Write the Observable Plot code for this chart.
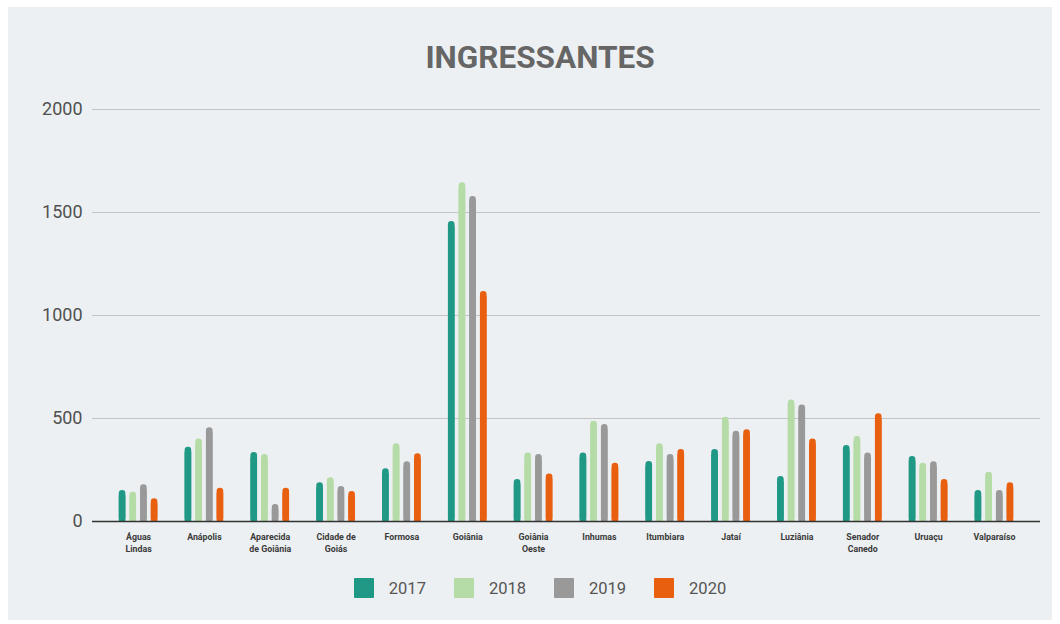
<!DOCTYPE html>
<html>
<head>
<meta charset="utf-8">
<script src="https://cdn.jsdelivr.net/npm/d3@7"></script>
<script src="https://cdn.jsdelivr.net/npm/@observablehq/plot@0.6"></script>
<style>
  html, body { margin: 0; padding: 0; background: #ffffff; }
  #panel { position: absolute; left: 8px; top: 7px; width: 1044px; height: 613px; background: #edf0f2; overflow: hidden; }
  #title { position: absolute; left: -8px; width: 1080px; top: 32px; text-align: center; font-family: Roboto, sans-serif; font-weight: bold; font-size: 31.5px; color: #666666; line-height: 38px; }
  #chart { position: absolute; left: 0; top: 83px; }
  #legend { position: absolute; left: -8px; width: 1080px; top: 571px; display: flex; justify-content: center; align-items: center; font-family: Roboto, sans-serif; font-size: 16.5px; color: #555; }
  .item { display: flex; align-items: center; margin: 0 14px; }
  .sw { width: 20px; height: 20px; margin-right: 15px; border-radius: 1px; }
</style>
</head>
<body>
<div id="panel">
  <div id="title">INGRESSANTES</div>
  <div id="chart"></div>
  <div id="legend"></div>
</div>
<script>
const cities = ["Águas Lindas", "Anápolis", "Aparecida de Goiânia", "Cidade de Goiás", "Formosa", "Goiânia", "Goiânia Oeste", "Inhumas", "Itumbiara", "Jataí", "Luziânia", "Senador Canedo", "Uruaçu", "Valparaíso"];
const tickLabels = ["Águas\nLindas", "Anápolis", "Aparecida\nde Goiânia", "Cidade de\nGoiás", "Formosa", "Goiânia", "Goiânia\nOeste", "Inhumas", "Itumbiara", "Jataí", "Luziânia", "Senador\nCanedo", "Uruaçu", "Valparaíso"];
const years = ["2017", "2018", "2019", "2020"];
const v2017 = [150, 361, 335, 188, 256, 1456, 204, 333, 291, 350, 218, 369, 316, 150];
const v2018 = [142, 401, 325, 212, 377, 1644, 333, 487, 377, 506, 590, 413, 283, 239];
const v2019 = [178, 455, 82, 170, 290, 1578, 325, 471, 325, 438, 566, 333, 290, 150];
const v2020 = [110, 162, 162, 146, 329, 1117, 231, 283, 350, 445, 401, 523, 204, 188];
const colors = ["#1f9985", "#b5dba6", "#999999", "#e95f10"];
const yTicks = [0, 500, 1000, 1500, 2000];

const series = [v2017, v2018, v2019, v2020];
const data = [];
cities.forEach((c, i) => years.forEach((y, j) => data.push({city: c, year: y, value: series[j][i]})));
const labelOf = new Map(cities.map((c, i) => [c, tickLabels[i]]));

// layout of bars inside each city band
const W = 1044, mL = 84, mR = 12;
const padOuter = 0.2;
const step = (W - mL - mR) / (cities.length + 2 * padOuter);
const barW = 6.6, pitch = 10.67;
const inset = (step - barW) / 2;

const barMarks = [];
years.forEach((y, j) => {
  const rows = data.filter(d => d.year === y);
  const dx = (j - 1.5) * pitch;
  barMarks.push(Plot.barY(rows, {x: "city", y: "value", fill: "year", dx, insetLeft: inset, insetRight: inset, rx: 3.2}));
  barMarks.push(Plot.barY(rows, {x: "city", y: d => Math.max(0, d.value - 25), fill: "year", dx, insetLeft: inset, insetRight: inset}));
});

const chart = Plot.plot({
  width: W,
  height: 471,
  marginLeft: mL,
  marginRight: mR,
  marginTop: 19,
  marginBottom: 40,
  style: {background: "transparent", fontFamily: "Roboto, sans-serif", overflow: "visible"},
  x: {domain: cities, paddingInner: 0, paddingOuter: padOuter, round: false, label: null},
  y: {domain: [0, 2000], label: null},
  color: {domain: years, range: colors},
  marks: [
    Plot.ruleY(yTicks.filter(d => d > 0), {stroke: "#c2c4c5", strokeWidth: 1}),
    ...barMarks,
    Plot.ruleY([0], {stroke: "#333333", strokeWidth: 1.6}),
    Plot.axisY({ticks: yTicks, tickFormat: d => String(d), tickSize: 0, tickPadding: 10, fontSize: 18, fill: "#505050", label: null}),
    Plot.axisX({tickSize: 0, tickPadding: 9, fontSize: 8.8, fontWeight: "bold", fill: "#3a3a3a", lineHeight: 1.45, tickFormat: d => labelOf.get(d), label: null})
  ]
});
document.getElementById("chart").appendChild(chart);

const legend = d3.select("#legend");
years.forEach((y, i) => {
  const it = legend.append("div").attr("class", "item");
  it.append("div").attr("class", "sw").style("background", colors[i]);
  it.append("span").text(y);
});
</script>
</body>
</html>
